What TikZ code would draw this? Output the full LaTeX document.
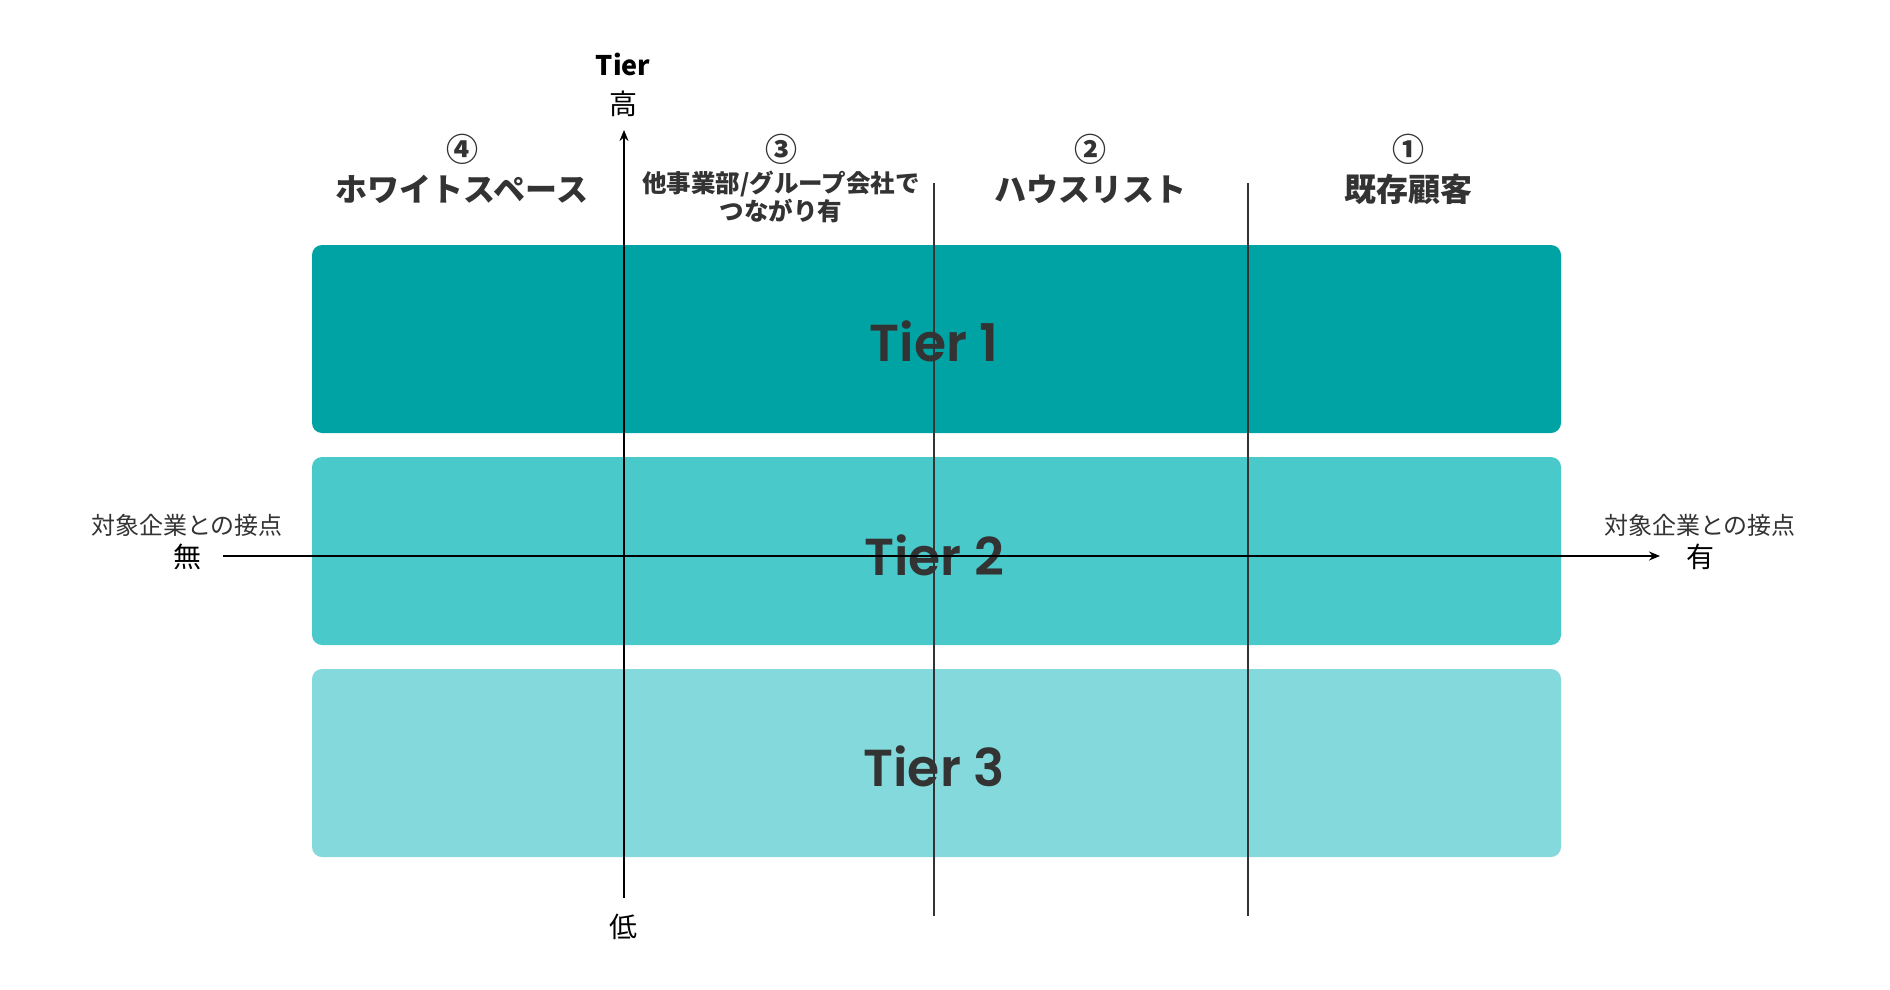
\documentclass[tikz,border=0pt]{standalone}
\usepackage{fontspec}
\setmainfont{Noto Sans CJK JP}
\newfontfamily\pop{Poppins SemiBold}
\usetikzlibrary{arrows.meta}
\definecolor{tA}{RGB}{0,163,163}
\definecolor{tB}{RGB}{74,201,203}
\definecolor{tC}{RGB}{131,217,219}
\definecolor{ink}{RGB}{51,51,51}
\begin{document}
\begin{tikzpicture}[x=1pt,y=-1pt,
  tierbox/.style={draw=none,rounded corners=10pt,minimum width=1249pt,minimum height=188pt,inner sep=0pt},
  tiertext/.style={font=\pop\fontsize{52}{60}\selectfont,text=ink,inner sep=0pt},
  numtext/.style={font=\bfseries\fontsize{32}{36}\selectfont,text=ink,inner sep=0pt},
  headtext/.style={font=\bfseries\fontsize{32}{36}\selectfont,text=ink,inner sep=0pt},
  sidetext/.style={font=\fontsize{24}{28}\selectfont,text=ink,inner sep=0pt},
  bigtext/.style={font=\fontsize{28}{32}\selectfont,text=black,inner sep=0pt},
  axis/.style={line width=2pt,black,-{Stealth[length=11pt,width=9pt]}},
  divider/.style={line width=1.6pt,ink}]
\useasboundingbox (0,0) rectangle (1890,990);
\fill[white] (0,0) rectangle (1890,990);
% tier boxes
\node[tierbox,fill=tA] (b1) at (936.5,339) {};
\node[tierbox,fill=tB] (b2) at (936.5,551) {};
\node[tierbox,fill=tC] (b3) at (936.5,763) {};
\node[tiertext] (l1) at (934,341) {Tier 1};
\node[tiertext] (l2) at (934,555) {Tier 2};
\node[tiertext] (l3) at (934,766) {Tier 3};
% column headings
\node[numtext] (n4) at (462,149) {④};
\node[headtext] (h4) at (462,189) {ホワイトスペース};
\node[numtext] (n3) at (781,149) {③};
\node[font=\bfseries\fontsize{24.5}{28}\selectfont,text=ink,inner sep=0pt,align=center] (h3) at (781,197) {他事業部/グループ会社で\\つながり有};
\node[numtext] (n2) at (1090,149) {②};
\node[headtext] (h2) at (1090,189) {ハウスリスト};
\node[numtext] (n1) at (1408,149) {①};
\node[headtext] (h1) at (1408,189) {既存顧客};
% vertical axis labels
\node[font=\bfseries\fontsize{27}{30}\selectfont,text=black,inner sep=0pt] (tierlbl) at (623,64) {Tier};
\node[bigtext] (high) at (623,104) {高};
\node[bigtext] (low) at (623,927) {低};
% horizontal axis labels
\node[sidetext] (leftlbl) at (187,525) {対象企業との接点};
\node[bigtext] (none) at (187,557) {無};
\node[sidetext] (rightlbl) at (1700,525) {対象企業との接点};
\node[bigtext] (yes) at (1700,557) {有};
% axes and dividers
\coordinate (vbot) at (624,898);
\coordinate (vtop) at (624,130);
\coordinate (hl) at (223,556);
\coordinate (hr) at (1660,556);
\coordinate (d1t) at (934,183);
\coordinate (d1b) at (934,916);
\coordinate (d2t) at (1248,183);
\coordinate (d2b) at (1248,916);
\draw[divider] (d1t) -- (d1b);
\draw[divider] (d2t) -- (d2b);
\draw[axis] (vbot) -- (vtop);
\draw[axis] (hl) -- (hr);
\end{tikzpicture}
\end{document}
